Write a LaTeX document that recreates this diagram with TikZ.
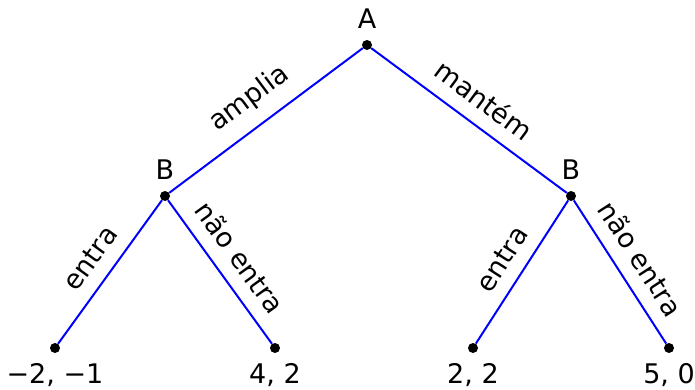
\documentclass[tikz,border=0pt]{standalone}
\usepackage{fontspec}
\setmainfont{DejaVu Sans}
\usetikzlibrary{positioning}
\definecolor{ramoazul}{RGB}{0,0,255}
\tikzset{
  % nós de decisão e folhas
  jogada/.style={circle,fill=black,inner sep=0pt,minimum size=10pt},
  nome/.style={inner sep=3pt},
  % ramos e rótulos dos ramos
  ramo/.style={ramoazul,line width=2pt},
  rotulo/.style={sloped,above=10pt,text=black}
}
\begin{document}
\begin{tikzpicture}[x=1pt,y=-1pt,font=\fontsize{27}{32}\selectfont]
  \useasboundingbox (0,0) rectangle (695,390);
  % jogadores
  \node[jogada] (A) at (367,45) {};
  \node[jogada] (B1) at (165,196) {};
  \node[jogada] (B2) at (571,196) {};
  \node[nome,above=8pt of A] (nA) {A};
  \node[nome,above=8pt of B1] (nB1) {B};
  \node[nome,above=8pt of B2] (nB2) {B};
  % resultados
  \node[jogada] (f1) at (55,348) {};
  \node[jogada] (f2) at (275,348) {};
  \node[jogada] (f3) at (473,348) {};
  \node[jogada] (f4) at (669,348) {};
  \node[nome,below=7pt of f1] (r1) {−2, −1};
  \node[nome,below=7pt of f2] (r2) {4, 2};
  \node[nome,below=7pt of f3] (r3) {2, 2};
  \node[nome,below=7pt of f4] (r4) {5, 0};
  % ramos
  \draw[ramo] (B1) -- node[rotulo]{amplia} (A);
  \draw[ramo] (A) -- node[rotulo]{mantém} (B2);
  \draw[ramo] (f1) -- node[rotulo]{entra} (B1);
  \draw[ramo] (B1) -- node[rotulo]{não entra} (f2);
  \draw[ramo] (f3) -- node[rotulo]{entra} (B2);
  \draw[ramo] (B2) -- node[rotulo]{não entra} (f4);
\end{tikzpicture}
\end{document}
